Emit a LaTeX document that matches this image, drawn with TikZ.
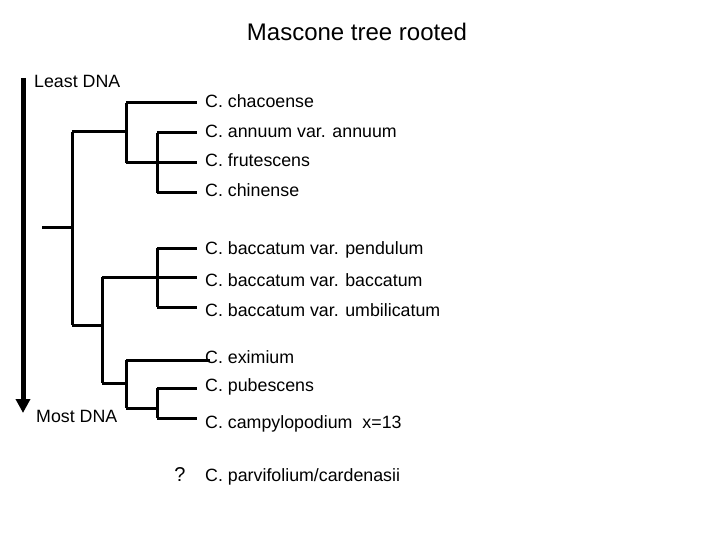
\documentclass[tikz,border=0pt]{standalone}
\usepackage{fontspec}
\setmainfont{Liberation Sans}
\usetikzlibrary{arrows.meta}
\begin{document}
\begin{tikzpicture}[x=1pt,y=-1pt,
  br/.style={line width=3pt},
  lab/.style={anchor=west,font=\fontsize{17.8}{20}\selectfont,inner sep=0pt}]
\useasboundingbox (0,0) rectangle (720,540);
\node[font=\fontsize{24}{26}\selectfont] (title) at (357,32) {Mascone tree rooted};
% axis arrow
\coordinate (atop) at (23,78);
\coordinate (abot) at (23,413);
\draw[line width=5pt,-{Triangle[width=14pt,length=14pt]}] (atop) -- (abot);
\node[lab] (least) at (34,81) {Least DNA};
\node[lab] (most) at (36,416) {Most DNA};
% leaves
\node[lab] (l1) at (205,101) {C. chacoense};
\node[lab] (l2) at (205,131) {C. annuum var. annuum};
\node[lab] (l3) at (205,160) {C. frutescens};
\node[lab] (l4) at (205,190) {C. chinense};
\node[lab] (l5) at (205,250) {C. baccatum var. pendulum};
\node[lab] (l6) at (205,280) {C. baccatum var. baccatum};
\node[lab] (l7) at (205,310) {C. baccatum var. umbilicatum};
\node[lab] (l8) at (205,357) {C. eximium};
\node[lab] (l9) at (205,387) {C. pubescens};
\node[lab] (l10) at (205,424) {C. campylopodium\ \ x=13};
\node[lab] (l11) at (205,477) {C. parvifolium/cardenasii};
\node[font=\fontsize{20}{22}\selectfont,inner sep=0pt] (q) at (180,475) {?};
% tree
\coordinate (r0) at (42,228);
\draw[br] (r0) -- (72,228);
\draw[br] (72,132) -- (72,325);
\draw[br] (72,132) -- (126,132);
\draw[br] (126,103) -- (126,163);
\draw[br] (126,103) -- (197,103);
\draw[br] (126,163) -- (157,163);
\draw[br] (157,133) -- (157,193);
\draw[br] (157,133) -- (197,133) (157,163) -- (197,163) (157,193) -- (197,193);
\draw[br] (72,325) -- (102,325);
\draw[br] (102,277) -- (102,383);
\draw[br] (102,277) -- (157,277);
\draw[br] (157,248) -- (157,307);
\draw[br] (157,248) -- (197,248) (157,277) -- (197,277) (157,307) -- (197,307);
\draw[br] (102,383) -- (126,383);
\draw[br] (126,360) -- (126,408);
\draw[br] (126,360) -- (210,360);
\draw[br] (126,408) -- (157,408);
\draw[br] (157,388) -- (157,418);
\draw[br] (157,388) -- (197,388) (157,418) -- (197,418);
\end{tikzpicture}
\end{document}
